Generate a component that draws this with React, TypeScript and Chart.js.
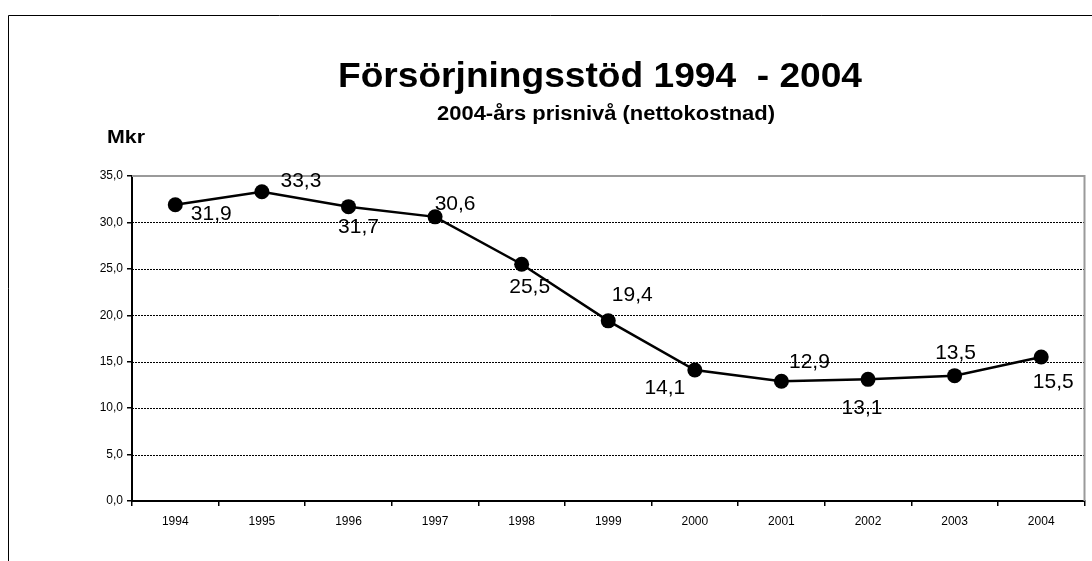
import React, { useEffect, useRef } from "react";
import { Chart, registerables } from "chart.js";

Chart.register(...registerables);

const categories = ["1994", "1995", "1996", "1997", "1998", "1999", "2000", "2001", "2002", "2003", "2004"];
const values = [31.9, 33.3, 31.7, 30.6, 25.5, 19.4, 14.1, 12.9, 13.1, 13.5, 15.5];
const yMin = 0;
const yMax = 35;
const yStep = 5;
const titleText = "Försörjningsstöd 1994  - 2004";
const subtitleText = "2004-års prisnivå (nettokostnad)";
const unitText = "Mkr";

const FONT = "'Liberation Sans', Arial, sans-serif";
const fmt = (v: number) => v.toFixed(1).replace(".", ",");

// label placement offsets (style only), relative to each point
const labelOffsets: [number, number][] = [
  [36, 8], [39, -12], [10, 19], [20, -14], [8, 21], [24, -27],
  [-30, 16], [28, -21], [-6, 27], [1, -24], [12, 23],
];

function drawStretched(ctx: CanvasRenderingContext2D, text: string, cx: number, baseline: number, font: string, targetWidth: number) {
  ctx.save();
  ctx.font = font;
  ctx.fillStyle = "#000";
  ctx.textAlign = "center";
  ctx.textBaseline = "alphabetic";
  const w = ctx.measureText(text).width;
  const sx = targetWidth / w;
  ctx.translate(cx, baseline);
  ctx.scale(sx, 1);
  ctx.fillText(text, 0, 0);
  ctx.restore();
}

const decorPlugin = {
  id: "decor",
  beforeDatasetsDraw(chart: any) {
    const { ctx, chartArea } = chart;
    const y = chart.scales.y;
    ctx.save();
    ctx.strokeStyle = "#000";
    ctx.lineWidth = 1;
    ctx.setLineDash([2, 1]);
    for (let v = yMin + yStep; v < yMax; v += yStep) {
      const py = Math.round(y.getPixelForValue(v)) + 0.5;
      ctx.beginPath();
      ctx.moveTo(chartArea.left, py);
      ctx.lineTo(chartArea.right, py);
      ctx.stroke();
    }
    ctx.setLineDash([]);
    ctx.strokeStyle = "#9a9a9a";
    ctx.lineWidth = 2;
    ctx.beginPath();
    ctx.moveTo(chartArea.left, chartArea.top);
    ctx.lineTo(chartArea.right, chartArea.top);
    ctx.lineTo(chartArea.right, chartArea.bottom);
    ctx.stroke();
    ctx.restore();
  },
  afterDraw(chart: any) {
    const { ctx } = chart;
    ctx.save();
    ctx.strokeStyle = "#000";
    ctx.lineWidth = 1;
    ctx.beginPath();
    ctx.moveTo(8.5, chart.height);
    ctx.lineTo(8.5, 15.5);
    ctx.lineTo(chart.width, 15.5);
    ctx.stroke();
    ctx.restore();
    drawStretched(ctx, titleText, 600, 87, `bold 35px ${FONT}`, 524);
    drawStretched(ctx, subtitleText, 606, 120, `bold 20px ${FONT}`, 338);
    drawStretched(ctx, unitText, 126, 143, `bold 19px ${FONT}`, 38);
    const meta = chart.getDatasetMeta(0);
    ctx.save();
    ctx.font = `21px ${FONT}`;
    ctx.fillStyle = "#000";
    ctx.textAlign = "center";
    ctx.textBaseline = "alphabetic";
    meta.data.forEach((pt: any, i: number) => {
      const [dx, dy] = labelOffsets[i];
      ctx.fillText(fmt(values[i]), pt.x + dx, pt.y + dy + 7.5);
    });
    ctx.restore();
  },
};

export default function App() {
  const ref = useRef<HTMLCanvasElement>(null);
  useEffect(() => {
    if (!ref.current) return;
    const chart = new Chart(ref.current, {
      type: "line",
      data: {
        labels: categories,
        datasets: [
          {
            data: values,
            borderColor: "#000",
            backgroundColor: "#000",
            borderWidth: 2.5,
            pointRadius: 7.5,
            pointBackgroundColor: "#000",
            pointBorderColor: "#000",
            pointBorderWidth: 0,
            tension: 0,
            clip: false as any,
          },
        ],
      },
      options: {
        animation: false,
        responsive: false,
        events: [],
        layout: { padding: { top: 176, right: 5, left: 0, bottom: 0 } },
        plugins: { legend: { display: false }, title: { display: false }, tooltip: { enabled: false } },
        scales: {
          x: {
            offset: true,
            grid: { offset: true, drawOnChartArea: false, drawTicks: true, tickLength: 5, color: "#000", lineWidth: 1.5 },
            border: { display: true, color: "#000", width: 2 },
            ticks: { color: "#000", font: { family: FONT, size: 12 }, padding: 8, maxRotation: 0 },
            afterFit: (s: any) => { s.height = 60; s.paddingLeft = 0; s.paddingRight = 0; },
          },
          y: {
            min: yMin,
            max: yMax,
            grid: { drawOnChartArea: false, drawTicks: true, tickLength: 5, color: "#000", lineWidth: 1.5 },
            border: { display: true, color: "#000", width: 2 },
            ticks: { stepSize: yStep, color: "#000", font: { family: FONT, size: 12 }, padding: 4, callback: (v: any) => fmt(Number(v)) },
            afterFit: (s: any) => { s.width = 132; s.paddingTop = 0; s.paddingBottom = 0; },
          },
        },
      },
      plugins: [decorPlugin],
    });
    return () => chart.destroy();
  }, []);
  return (
    <div style={{ position: "fixed", left: 0, top: 0, width: 1092, height: 561, background: "#fff" }}>
      <canvas ref={ref} width={1092} height={561} style={{ display: "block" }} />
    </div>
  );
}
